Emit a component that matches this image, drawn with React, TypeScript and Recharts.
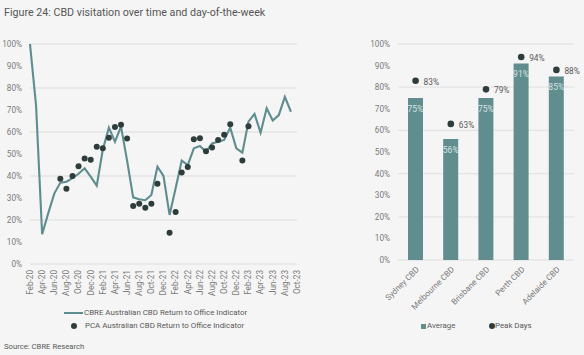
import React from 'react';
import { ComposedChart, Line, XAxis, YAxis, CartesianGrid, Bar, LabelList } from 'recharts';

const months = [
  'Feb-20', 'Mar-20', 'Apr-20', 'May-20', 'Jun-20', 'Jul-20', 'Aug-20', 'Sep-20', 'Oct-20', 'Nov-20', 'Dec-20',
  'Jan-21', 'Feb-21', 'Mar-21', 'Apr-21', 'May-21', 'Jun-21', 'Jul-21', 'Aug-21', 'Sep-21', 'Oct-21', 'Nov-21', 'Dec-21',
  'Jan-22', 'Feb-22', 'Mar-22', 'Apr-22', 'May-22', 'Jun-22', 'Jul-22', 'Aug-22', 'Sep-22', 'Oct-22', 'Nov-22', 'Dec-22',
  'Jan-23', 'Feb-23', 'Mar-23', 'Apr-23', 'May-23', 'Jun-23', 'Jul-23', 'Aug-23', 'Sep-23', 'Oct-23',
];

const cbreIndex: (number | null)[] = [
  100, 72, 13.6, 23, 32, 37, 37.4, 39, 41, 43.5, 39.7,
  35.6, 52, 62, 55.6, 62.5, 47, 30.3, 29.4, 29, 31.4, 44.2, 40,
  22.3, 34.4, 47, 45, 52.6, 53.6, 51, 54.8, 55.6, 56.4, 62, 52.6,
  50.6, 64.7, 68.2, 59.7, 70.8, 65.2, 67.7, 76, 69.2, null,
];

const pcaIndex: (number | null)[] = [
  null, null, null, null, null, 38.8, 34.2, 40, 44.4, 47.9, 47.4,
  53.3, 52.6, 57.4, 62.3, 63.3, 57, 26.4, 27.4, 25.6, 27.4, 36.5, null,
  14.2, 23.6, 41.6, 44.1, 56.7, 57.2, 51.2, 52.9, 56.4, 58.8, 63.5, null,
  47, 62.6, null, null, null, null, null, null, null, null,
];

const cities = ['Sydney CBD', 'Melbourne CBD', 'Brisbane CBD', 'Perth CBD', 'Adelaide CBD'];
const averages = [75, 56, 75, 91, 85];
const peaks = [83, 63, 79, 94, 88];

const pctTicks = [0, 10, 20, 30, 40, 50, 60, 70, 80, 90, 100];

const lineData = months.map((m, i) => ({ month: m, cbre: cbreIndex[i], pca: pcaIndex[i] }));
const barData = cities.map((c, i) => ({ city: c, avg: averages[i], peak: peaks[i] }));

const FONT = 'Roboto, "Noto Sans", sans-serif';
const TEAL = '#5f8d8f';
const BAR = '#628d8e';
const DARK = '#2f3c3c';
const TICK = '#7a7a7a';
const TEXT = '#585858';
const GRID = '#e4e4e4';

const MonthTick = (props: any) => {
  const { x, y, payload } = props;
  return (
    <text x={x} y={y} transform={`rotate(-90 ${x} ${y})`} textAnchor="end" dy="0.35em"
      fontSize={8.2} fill={TICK} fontFamily={FONT}>{payload.value}</text>
  );
};

const CityTick = (props: any) => {
  const { x, y, payload } = props;
  const tx = x + 2;
  return (
    <text x={tx} y={y} transform={`rotate(-45 ${tx} ${y})`} textAnchor="end" dy="0.35em"
      fontSize={8.2} fill={TICK} fontFamily={FONT}>{payload.value}</text>
  );
};

const BarLabel = (props: any) => {
  const { x, y, width, value } = props;
  return (
    <text x={x + width / 2} y={y + 11} textAnchor="middle" dominantBaseline="central"
      fontSize={8.6} fill="#d6e3e3" fontFamily={FONT}>{value}%</text>
  );
};

const PeakLabel = (props: any) => {
  const { x, y, value } = props;
  return (
    <text x={x + 8} y={y + 1} textAnchor="start" dominantBaseline="central"
      fontSize={8.3} fill={TEXT} fontFamily={FONT}>{value}%</text>
  );
};

const abs = (left: number, top: number, extra: any = {}) => ({ position: 'absolute' as const, left, top, ...extra });

export default function App() {
  const txt = { fontFamily: FONT, color: TEXT, whiteSpace: 'nowrap' as const, lineHeight: '12px' };
  return (
    <div style={{ position: 'absolute', left: 0, top: 0, width: 584, height: 355, background: '#f5f5f5', overflow: 'hidden' }}>
      <div style={{ ...abs(4, 7), ...txt, fontSize: 10.7, color: '#555' }}>
        Figure 24: CBD visitation over time and day-of-the-week
      </div>

      <div style={abs(0, 0)}>
        <ComposedChart width={310} height={355} data={lineData} margin={{ top: 44, right: 13, left: 0, bottom: 51 }}>
          <CartesianGrid vertical={false} stroke={GRID} strokeWidth={1.3} />
          <XAxis dataKey="month" interval={1} axisLine={false} tickLine={false} tickSize={6} tickMargin={0}
            height={40} tick={<MonthTick />} />
          <YAxis domain={[0, 100]} ticks={pctTicks} tickFormatter={(v: number) => `${v}%`} axisLine={false}
            tickLine={false} width={30} tick={{ fontSize: 8.2, fill: TICK, fontFamily: FONT }} />
          <Line dataKey="cbre" stroke={TEAL} strokeWidth={2.1} dot={false} activeDot={false}
            isAnimationActive={false} type="linear" />
          <Line dataKey="pca" stroke="none" dot={{ r: 3, fill: DARK, stroke: 'none' }} activeDot={false}
            isAnimationActive={false} />
        </ComposedChart>
      </div>

      <div style={abs(360, 0)}>
        <ComposedChart width={224} height={355} data={barData} margin={{ top: 44, right: 10, left: 0, bottom: 45 }}>
          <CartesianGrid vertical={false} stroke={GRID} strokeWidth={1.3} />
          <XAxis dataKey="city" interval={0} axisLine={false} tickLine={false} tickSize={6} tickMargin={2}
            height={50} tick={<CityTick />} />
          <YAxis domain={[0, 100]} ticks={pctTicks} tickFormatter={(v: number) => `${v}%`} axisLine={false}
            tickLine={false} width={38} tick={{ fontSize: 8.2, fill: TICK, fontFamily: FONT }} />
          <Bar dataKey="avg" fill={BAR} barSize={15} isAnimationActive={false}>
            <LabelList dataKey="avg" content={<BarLabel />} />
          </Bar>
          <Line dataKey="peak" stroke="none" dot={{ r: 3.3, fill: DARK, stroke: 'none' }} activeDot={false}
            isAnimationActive={false}>
            <LabelList dataKey="peak" content={<PeakLabel />} />
          </Line>
        </ComposedChart>
      </div>

      {/* Left legend */}
      <div style={abs(64, 312, { width: 19, height: 2, background: TEAL })} />
      <div style={{ ...abs(84, 307), ...txt, fontSize: 7.9 }}>CBRE Australian CBD Return to Office Indicator</div>
      <div style={abs(71, 323, { width: 6, height: 6, borderRadius: 3, background: DARK })} />
      <div style={{ ...abs(85, 320), ...txt, fontSize: 7.9 }}>PCA Australian CBD Return to Office Indicator</div>

      {/* Right legend */}
      <div style={abs(421, 323.5, { width: 5, height: 5, background: BAR })} />
      <div style={{ ...abs(427, 320), ...txt, fontSize: 7.9 }}>Average</div>
      <div style={abs(489, 323, { width: 6, height: 6, borderRadius: 3, background: DARK })} />
      <div style={{ ...abs(495, 320), ...txt, fontSize: 7.9 }}>Peak Days</div>

      <div style={{ ...abs(4, 341), ...txt, fontSize: 7.7 }}>Source: CBRE Research</div>
    </div>
  );
}
